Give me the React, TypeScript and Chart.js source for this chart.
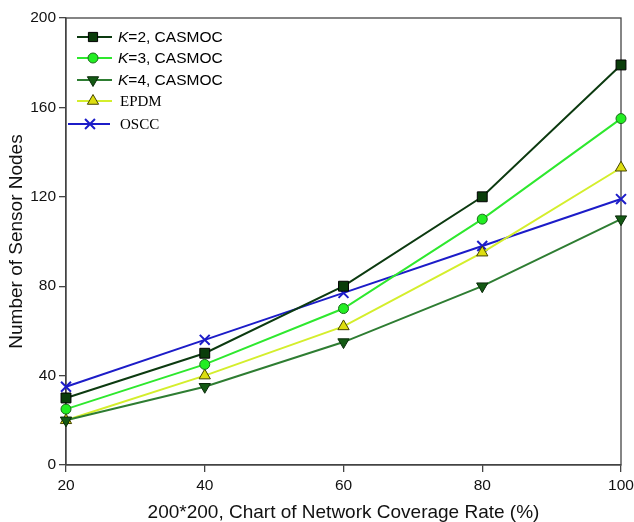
import React, { useEffect, useRef } from 'react';
import { Chart, registerables } from 'chart.js';

Chart.register(...registerables);

const coverageRates = [20, 40, 60, 80, 100];
const k2Casmoc = [30, 50, 80, 120, 179];
const k3Casmoc = [25, 45, 70, 110, 155];
const k4Casmoc = [20, 35, 55, 80, 110];
const epdm = [20, 40, 62, 95, 133];
const oscc = [35, 56, 77, 98, 119];
const xTicks = [20, 40, 60, 80, 100];
const yTicks = [0, 40, 80, 120, 160, 200];

const SANS = '"Liberation Sans", Arial, sans-serif';
const SERIF = '"Liberation Serif", "Times New Roman", serif';

type Series = {
  parts: { text: string; italic?: boolean; serif?: boolean }[];
  values: number[];
  line: string;
  fill: string;
  stroke: string;
  style: string;
  rotation: number;
  radius: number;
  legendRadius: number;
};

const series: Series[] = [
  { parts: [{ text: 'K', italic: true }, { text: '=2, CASMOC' }], values: k2Casmoc, line: '#0c3a10', fill: '#0a3d0a', stroke: '#000000', style: 'rect', rotation: 0, radius: 7, legendRadius: 6.5 },
  { parts: [{ text: 'K', italic: true }, { text: '=3, CASMOC' }], values: k3Casmoc, line: '#2ee82e', fill: '#22ee22', stroke: '#1a6a1a', style: 'circle', rotation: 0, radius: 5, legendRadius: 5 },
  { parts: [{ text: 'K', italic: true }, { text: '=4, CASMOC' }], values: k4Casmoc, line: '#2e7d32', fill: '#145a14', stroke: '#0a2a0a', style: 'triangle', rotation: 180, radius: 6.5, legendRadius: 6.5 },
  { parts: [{ text: 'EPDM', serif: true }], values: epdm, line: '#d4ee2c', fill: '#dede10', stroke: '#444400', style: 'triangle', rotation: 0, radius: 6.5, legendRadius: 6.5 },
  { parts: [{ text: 'OSCC', serif: true }], values: oscc, line: '#1c1cc8', fill: '#1c1cc8', stroke: '#1c1cc8', style: 'crossRot', rotation: 0, radius: 7, legendRadius: 7 },
];

function drawMarker(ctx: CanvasRenderingContext2D, s: Series, x: number, y: number, r: number) {
  ctx.save();
  ctx.fillStyle = s.fill;
  ctx.strokeStyle = s.stroke;
  ctx.lineWidth = 1;
  ctx.beginPath();
  if (s.style === 'rect') {
    const h = Math.SQRT1_2 * r;
    ctx.rect(x - h, y - h, 2 * h, 2 * h);
    ctx.fill();
    ctx.stroke();
  } else if (s.style === 'circle') {
    ctx.arc(x, y, r, 0, Math.PI * 2);
    ctx.fill();
    ctx.stroke();
  } else if (s.style === 'triangle') {
    let a = (s.rotation * Math.PI) / 180 - Math.PI / 2;
    for (let i = 0; i < 3; i++) {
      const px = x + Math.cos(a) * r;
      const py = y + Math.sin(a) * r;
      if (i === 0) ctx.moveTo(px, py);
      else ctx.lineTo(px, py);
      a += (2 * Math.PI) / 3;
    }
    ctx.closePath();
    ctx.fill();
    ctx.stroke();
  } else {
    ctx.lineWidth = 2;
    const d = r * Math.SQRT1_2;
    ctx.moveTo(x - d, y - d);
    ctx.lineTo(x + d, y + d);
    ctx.moveTo(x + d, y - d);
    ctx.lineTo(x - d, y + d);
    ctx.stroke();
  }
  ctx.restore();
}

const legendRows = [37, 58, 80, 101, 124];

const framePlugin = {
  id: 'frame',
  beforeDatasetsDraw(chart: any) {
    const { ctx, chartArea } = chart;
    ctx.save();
    ctx.strokeStyle = '#444444';
    ctx.lineWidth = 1.3;
    ctx.strokeRect(chartArea.left, chartArea.top, chartArea.right - chartArea.left, chartArea.bottom - chartArea.top);
    ctx.restore();
  },
  afterDraw(chart: any) {
    const ctx: CanvasRenderingContext2D = chart.ctx;
    series.forEach((s, i) => {
      const y = legendRows[i];
      const isCross = s.style === 'crossRot';
      const x0 = isCross ? 68 : 77;
      const x1 = isCross ? 110 : 112;
      const mx = isCross ? 90 : 93;
      ctx.save();
      ctx.strokeStyle = s.line;
      ctx.lineWidth = 2;
      ctx.beginPath();
      ctx.moveTo(x0, y);
      ctx.lineTo(x1, y);
      ctx.stroke();
      ctx.restore();
      drawMarker(ctx, s, mx, y, s.legendRadius);
      let tx = s.parts[0].serif ? 120 : 118;
      ctx.save();
      ctx.fillStyle = '#000000';
      ctx.textBaseline = 'middle';
      ctx.textAlign = 'left';
      s.parts.forEach((p) => {
        ctx.font = p.serif ? `15px ${SERIF}` : `${p.italic ? 'italic ' : ''}15.5px ${SANS}`;
        ctx.fillText(p.text, tx, y + 1);
        tx += ctx.measureText(p.text).width;
      });
      ctx.restore();
    });
  },
};

export default function App() {
  const canvasRef = useRef<HTMLCanvasElement | null>(null);

  useEffect(() => {
    document.body.style.margin = '0';
    const canvas = canvasRef.current;
    if (!canvas) return;
    const chart = new Chart(canvas, {
      type: 'line',
      data: {
        datasets: series.map((s) => ({
          label: s.parts.map((p) => p.text).join(''),
          data: coverageRates.map((x, i) => ({ x, y: s.values[i] })),
          borderColor: s.line,
          borderWidth: 2,
          backgroundColor: s.fill,
          pointBackgroundColor: s.fill,
          pointBorderColor: s.stroke,
          pointBorderWidth: s.style === 'crossRot' ? 2 : 1,
          pointStyle: s.style as any,
          pointRotation: s.rotation,
          pointRadius: s.radius,
          tension: 0,
          clip: false as any,
        })),
      },
      options: {
        animation: false,
        responsive: false,
        maintainAspectRatio: false,
        layout: { padding: { top: 18, right: 0, left: 0, bottom: 0 } },
        plugins: {
          legend: { display: false },
          tooltip: { enabled: false },
        },
        scales: {
          x: {
            type: 'linear',
            min: 20,
            max: 100,
            afterBuildTicks: (scale: any) => {
              scale.ticks = xTicks.map((v) => ({ value: v }));
            },
            afterFit: (scale: any) => {
              scale.height = 57;
              scale.paddingRight = 13;
            },
            grid: { display: true, drawOnChartArea: false, drawTicks: true, tickLength: 7, color: '#444444', lineWidth: 1.3 },
            border: { display: true, color: '#444444', width: 1.3 },
            ticks: { color: '#111111', font: { family: SANS, size: 15.5 }, padding: 4, maxRotation: 0 },
            title: {
              display: true,
              text: '200*200, Chart of Network Coverage Rate (%)',
              color: '#111111',
              font: { family: SANS, size: 19, lineHeight: 1 },
              padding: { top: 0, bottom: 0 },
            },
          },
          y: {
            type: 'linear',
            min: 0,
            max: 200,
            afterBuildTicks: (scale: any) => {
              scale.ticks = yTicks.map((v) => ({ value: v }));
            },
            afterFit: (scale: any) => {
              scale.width = 66;
            },
            grid: { display: true, drawOnChartArea: false, drawTicks: true, tickLength: 7, color: '#444444', lineWidth: 1.3 },
            border: { display: true, color: '#444444', width: 1.3 },
            ticks: { color: '#111111', font: { family: SANS, size: 15.5 }, padding: 3 },
            title: {
              display: true,
              text: 'Number of Sensor Nodes',
              color: '#111111',
              font: { family: SANS, size: 19, lineHeight: 1 },
              padding: { top: 7, bottom: 0 },
            },
          },
        },
      },
      plugins: [framePlugin],
    });
    return () => chart.destroy();
  }, []);

  return (
    <div style={{ width: 634, height: 522, background: '#ffffff' }}>
      <canvas ref={canvasRef} width={634} height={522} style={{ width: 634, height: 522, display: 'block' }} />
    </div>
  );
}
